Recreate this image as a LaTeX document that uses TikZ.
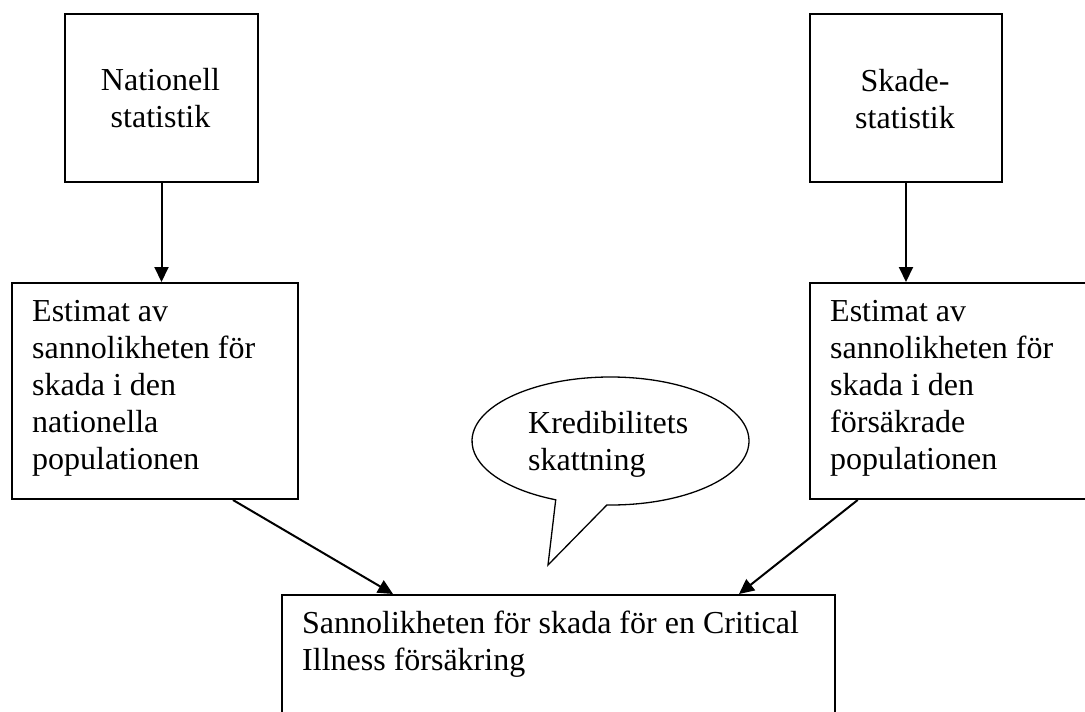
\documentclass[tikz,border=0pt]{standalone}
\usepackage{fontspec}
\setmainfont{Liberation Serif}
\usetikzlibrary{arrows.meta,calc}
\newcommand\myfirststrut{\rule{0pt}{24pt}}
\begin{document}
\begin{tikzpicture}[x=1pt,y=-1pt,
  box/.style={draw, line width=2pt, inner sep=0pt, anchor=north west},
  txt/.style={inner sep=0pt, anchor=north west, align=left, font=\fontsize{32}{37}\selectfont},
  ctxt/.style={inner sep=0pt, anchor=north, align=center, font=\fontsize{32}{37}\selectfont},
  arrow/.style={line width=2pt, -{Triangle[length=15pt,width=14pt]}},
  callout/.style={draw, line width=1.3pt, line join=miter}
]
\clip (0,0) rectangle (1085,712);
\fill[white] (0,0) rectangle (1085,712);

% boxes
\node[box, minimum width=193pt, minimum height=168pt] (tl) at (64,13) {};
\node[box, minimum width=192pt, minimum height=168pt] (tr) at (809,13) {};
\node[box, minimum width=286pt, minimum height=216pt] (ml) at (11,282) {};
\node[box, minimum width=286pt, minimum height=216pt] (mr) at (809,282) {};
\node[box, minimum width=553pt, minimum height=160pt] (bot) at (281,594) {};

% texts
\node[ctxt] (tltxt) at (160.5,66) {\myfirststrut Nationell\\statistik};
\node[ctxt] (trtxt) at (905,67) {\myfirststrut Skade-\\statistik};
\node[txt] (mltxt) at (32,297.7) {\myfirststrut Estimat av\\sannolikheten för\\skada i den\\nationella\\populationen};
\node[txt] (mrtxt) at (830,297.7) {\myfirststrut Estimat av\\sannolikheten för\\skada i den\\försäkrade\\populationen};
\node[txt] (bottxt) at (302,609) {\myfirststrut Sannolikheten för skada för en Critical\\Illness försäkring};

% callout
\coordinate (cbc) at (610.5,441);
\coordinate (cbtip) at (548,565);
\draw[callout] (cbc) ++(-91.5:138.5pt and 64pt)
  arc[start angle=-91.5, end angle=246.7, x radius=138.5pt, y radius=64pt]
  -- (cbtip) -- cycle;
\node[txt] (cbtxt) at (528,409) {\myfirststrut Kredibilitets\\skattning};

% connectors
\draw[arrow] (tl.south) -- (tl.south |- ml.north);
\draw[arrow] (tr.south) -- (tr.south |- mr.north);
\draw[arrow] ([xshift=78pt]ml.south) -- ([xshift=-165.5pt]bot.north);
\draw[arrow] ([xshift=-95.3pt]mr.south) -- ([xshift=180.5pt]bot.north);
\end{tikzpicture}
\end{document}
